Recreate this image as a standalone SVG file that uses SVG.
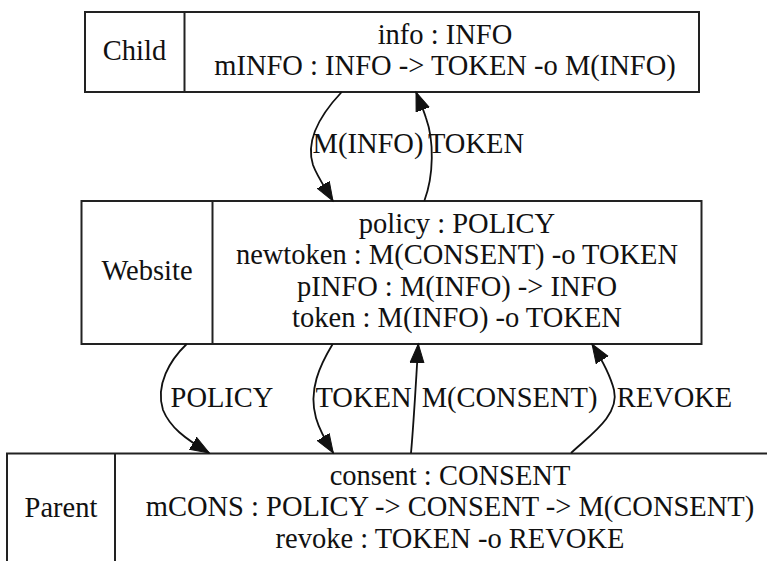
<svg xmlns="http://www.w3.org/2000/svg" width="767" height="561" viewBox="0 0 767 561">
<style>
  .box { fill: #ffffff; stroke: #222222; stroke-width: 2; }
  .div { stroke: #222222; stroke-width: 2; }
  .edge { fill: none; stroke: #111111; stroke-width: 1.8; }
</style>
<defs>
  <marker id="arrow" markerUnits="userSpaceOnUse" markerWidth="22" markerHeight="18" viewBox="0 -9 22 18" refX="19" refY="0" orient="auto">
    <path d="M0,-7 L19,0 L0,7 z" fill="#111111" stroke="#111111" stroke-width="1"/>
  </marker>
</defs>
<rect width="767" height="561" fill="#ffffff"/>
<g font-family="Liberation Serif, DejaVu Serif, serif" font-size="28.5" fill="#111111" text-anchor="middle">
<g id="child">
  <rect class="box" x="85" y="12" width="614" height="80"/>
  <line class="div" x1="184.5" y1="12" x2="184.5" y2="92"/>
  <text x="134.5" y="60">Child</text>
  <text x="445" y="43.5">info : INFO</text>
  <text x="445" y="75">mINFO : INFO -&gt; TOKEN -o M(INFO)</text>
</g>

<g id="website">
  <rect class="box" x="81.5" y="201" width="620" height="143"/>
  <line class="div" x1="212.5" y1="201" x2="212.5" y2="344"/>
  <text x="147" y="280">Website</text>
  <text x="457" y="232.5">policy : POLICY</text>
  <text x="457" y="264">newtoken : M(CONSENT) -o TOKEN</text>
  <text x="457" y="295.5">pINFO : M(INFO) -&gt; INFO</text>
  <text x="457" y="327">token : M(INFO) -o TOKEN</text>
</g>

<g id="parent">
  <rect class="box" x="7" y="453.5" width="780" height="112"/>
  <line class="div" x1="115" y1="453.5" x2="115" y2="565.5"/>
  <text x="61" y="517">Parent</text>
  <text x="450" y="484.5">consent : CONSENT</text>
  <text x="450" y="516">mCONS : POLICY -&gt; CONSENT -&gt; M(CONSENT)</text>
  <text x="450" y="547.5">revoke : TOKEN -o REVOKE</text>
</g>

<g id="connectors">
  <path class="edge" marker-end="url(#arrow)" d="M341.7,92 C320,115 305,140 313,165 C317,176 324,186 333,201"/>
  <text x="368" y="153">M(INFO)</text>

  <path class="edge" marker-end="url(#arrow)" d="M424.3,201 C434,175 434,140 426,118 C423,108 419,100 416,92"/>
  <text x="476" y="153">TOKEN</text>

  <path class="edge" marker-end="url(#arrow)" d="M186.7,344 C170,360 155,385 163,410 C170,427 184,438 209.3,453"/>
  <text x="222" y="407">POLICY</text>

  <path class="edge" marker-end="url(#arrow)" d="M332.7,344 C320,365 308,390 316,418 C320,432 327,443 333.3,453"/>
  <text x="363.5" y="407">TOKEN</text>

  <path class="edge" marker-end="url(#arrow)" d="M411,453 C414,420 416,380 418.3,344"/>
  <text x="509.5" y="407">M(CONSENT)</text>

  <path class="edge" marker-end="url(#arrow)" d="M571,453 C590,435 620,415 614,390 C611,378 604,363 592,344"/>
  <text x="674.5" y="407">REVOKE</text>
</g>
</g>
</svg>
